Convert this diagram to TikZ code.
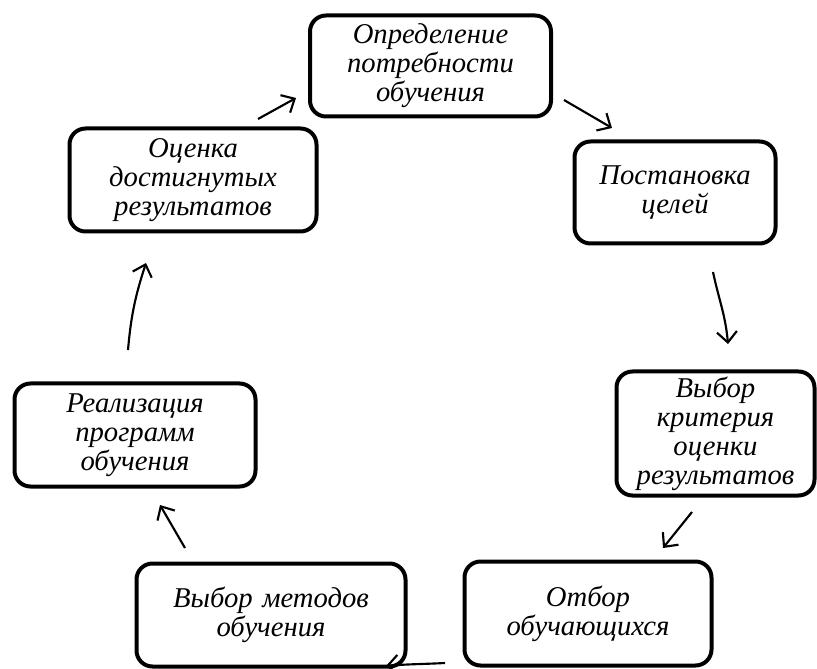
\documentclass[tikz,border=0pt]{standalone}
\usepackage{fontspec}
\setmainfont{Liberation Serif}
\usetikzlibrary{arrows.meta}

\begin{document}
\begin{tikzpicture}[x=0.75pt, y=0.75pt,
	stage/.style={draw, line width=3pt, rounded corners=12pt, align=center, inner sep=0pt,
		font=\itshape\fontsize{21.5}{21.8}\selectfont},
	arr/.style={line width=1.6pt, -{Straight Barb[length=8pt, width=15pt]}}]
	\useasboundingbox (0,0) rectangle (817,668);
	
	\node[stage, text width=241*0.75pt, minimum height=101*0.75pt] (1) at (430.5,602) {Определение\\потребности\\обучения};
	\node[stage, text width=201*0.75pt, minimum height=102*0.75pt] (2) at (675,475.5) {Постановка\\целей};
	\node[stage, text width=198*0.75pt, minimum height=124*0.75pt] (3) at (715.5,234.5) {Выбор\\критерия\\оценки\\результатов};
	\node[stage, text width=247*0.75pt, minimum height=104*0.75pt] (4) at (588,54.5) {Отбор\\обучающихся};
	\node[stage, text width=269*0.75pt, minimum height=103*0.75pt] (5) at (271,53) {Выбор методов\\обучения};
	\node[stage, text width=241*0.75pt, minimum height=103*0.75pt] (6) at (135,233) {Реализация\\программ\\обучения};
	\node[stage, text width=247*0.75pt, minimum height=103*0.75pt] (7) at (193,488) {Оценка\\достигнутых\\результатов};
	
	\coordinate (a1) at (258,549); \coordinate (b1) at (296,570);
	\coordinate (a2) at (564,568); \coordinate (b2) at (612,540);
	\coordinate (a3) at (713,396); \coordinate (b3) at (728,324);
	\coordinate (a4) at (692,156); \coordinate (b4) at (663,120);
	\coordinate (a5) at (445,5);   \coordinate (b5) at (386,2);
	\coordinate (a6) at (185,120); \coordinate (b6) at (160,163);
	\coordinate (a7) at (128,318); \coordinate (b7) at (146,405);
	
	\draw[arr] (a1) -- (b1);
	\draw[arr] (a2) -- (b2);
	\draw[arr] (a3) to[out=-78, in=95] (b3);
	\draw[arr] (a4) -- (b4);
	\draw[arr] (a5) to[out=183, in=5] (b5);
	\draw[arr] (a6) -- (b6);
	\draw[arr] (a7) to[out=85, in=-108] (b7);
\end{tikzpicture}
\end{document}
